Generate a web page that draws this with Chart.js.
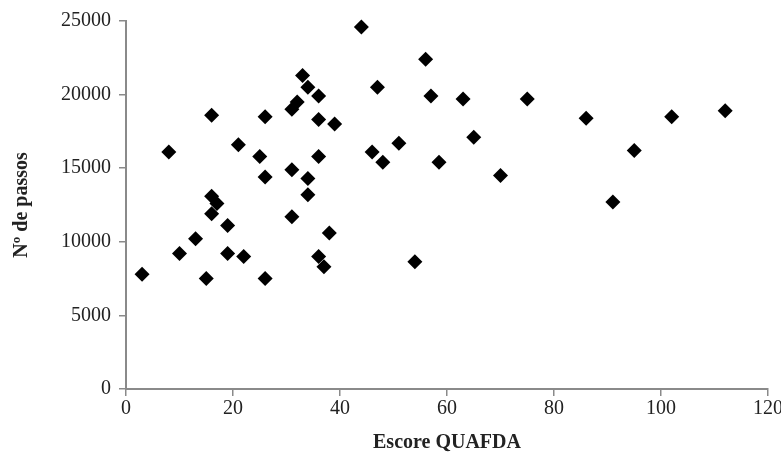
<!DOCTYPE html>
<html>
<head>
<meta charset="utf-8">
<script src="https://cdn.jsdelivr.net/npm/chart.js@4"></script>
<style>
  html, body { margin: 0; padding: 0; background: #fff; }
  #wrap { width: 781px; height: 459px; }
</style>
</head>
<body>
<div id="wrap"><canvas id="c" width="781" height="459"></canvas></div>
<script>
// Escore QUAFDA x Nº de passos
const escore = [3, 8, 10, 13, 15, 16, 16, 17, 16, 19, 19, 22, 21, 25, 26, 26, 26,
  31, 32, 33, 34, 36, 36, 39, 31, 36, 34, 34, 31, 38, 36, 37,
  44, 47, 46, 48, 56, 57, 63, 75, 51, 65, 58.5, 70, 54, 86, 91, 95, 102, 112];
const passos = [7800, 16100, 9200, 10200, 7500, 18600, 13100, 12600, 11900, 11100, 9200, 9000, 16600, 15800, 14400, 18500, 7500,
  19000, 19500, 21300, 20500, 19900, 18300, 18000, 14900, 15800, 14300, 13200, 11700, 10600, 9000, 8300,
  24600, 20500, 16100, 15400, 22400, 19900, 19700, 19700, 16700, 17100, 15400, 14500, 8650, 18400, 12700, 16200, 18500, 18900];
const xTicks = [0, 20, 40, 60, 80, 100, 120];
const yTicks = [0, 5000, 10000, 15000, 20000, 25000];

const serif = "'Liberation Serif', 'Times New Roman', serif";
const axisColor = '#8a8a8a';

new Chart(document.getElementById('c'), {
  type: 'scatter',
  data: {
    datasets: [{
      data: escore.map((x, i) => ({ x, y: passos[i] })),
      pointStyle: 'rectRot',
      pointRadius: 7.5,
      pointHoverRadius: 7.5,
      backgroundColor: '#000',
      borderColor: '#000',
      borderWidth: 0,
      clip: false,
    }],
  },
  options: {
    responsive: false,
    animation: false,
    layout: { padding: { top: 21, right: 13, left: 6, bottom: 0 } },
    plugins: { legend: { display: false }, tooltip: { enabled: false } },
    scales: {
      x: {
        type: 'linear',
        min: 0,
        max: 120,
        afterBuildTicks: s => { s.ticks = xTicks.map(v => ({ value: v })); },
        afterFit: s => { s.height = 70; s.paddingRight = 0; s.paddingLeft = 0; },
        ticks: { color: '#222', font: { family: serif, size: 20 }, padding: 1, callback: v => String(v) },
        grid: { drawOnChartArea: false, drawTicks: true, tickLength: 7, color: axisColor, lineWidth: 1.5 },
        border: { color: axisColor, width: 2 },
        title: {
          display: true,
          text: 'Escore QUAFDA',
          color: '#222',
          font: { family: serif, size: 20, weight: 'bold' },
          padding: { top: 2 },
        },
      },
      y: {
        min: 0,
        max: 25000,
        afterBuildTicks: s => { s.ticks = yTicks.map(v => ({ value: v })); },
        afterFit: s => { s.width = 120; },
        ticks: { color: '#222', font: { family: serif, size: 20 }, padding: 8, callback: v => String(v) },
        grid: { drawOnChartArea: false, drawTicks: true, tickLength: 7, color: axisColor, lineWidth: 1.5 },
        border: { color: axisColor, width: 2 },
        title: {
          display: true,
          text: 'Nº de passos',
          color: '#222',
          font: { family: serif, size: 20, weight: 'bold' },
          padding: { bottom: 4 },
        },
      },
    },
  },
});
</script>
</body>
</html>
